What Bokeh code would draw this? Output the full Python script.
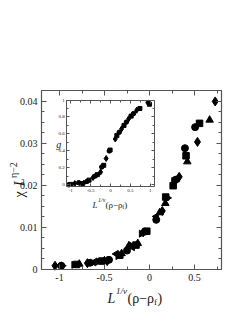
import math
from bokeh.plotting import figure
from bokeh.models import Range1d, LinearAxis, FixedTicker, CustomJSTickFormatter, Label
from bokeh.embed import file_html
from bokeh.resources import INLINE

# ---------------- main panel data ----------------
circle_x = [-0.98, -0.66, -0.45, -0.25, -0.05, 0.075, 0.29, 0.394, 0.507]
circle_y = [0.0009, 0.0016, 0.0023, 0.0045, 0.0090, 0.0118, 0.0213, 0.0288, 0.0338]
square_x = [-0.81, -0.53, -0.33, -0.15, -0.03, 0.18, 0.263, 0.406, 0.556]
square_y = [0.0012, 0.0020, 0.0034, 0.0058, 0.0091, 0.0172, 0.0199, 0.0270, 0.0347]
tri_x = [-0.78, -0.50, -0.31, -0.13, 0.113, 0.176, 0.42, 0.668]
tri_y = [0.0013, 0.0021, 0.0038, 0.0062, 0.0135, 0.0157, 0.0256, 0.0355]
diam_x = [-1.05, -0.69, -0.47, -0.23, -0.07, 0.142, 0.33, 0.533, 0.73]
diam_y = [0.0009, 0.0015, 0.0020, 0.0055, 0.0088, 0.0139, 0.0220, 0.0303, 0.0399]
left_x = [-1.00, -0.62, -0.37, -0.19, 0.075, 0.31]
left_y = [0.0009, 0.0017, 0.0037, 0.0053, 0.0126, 0.0217]
right_x = [-0.97, -0.84, -0.57, -0.35, -0.21, -0.09, 0.20, 0.27]
right_y = [0.0009, 0.0011, 0.0019, 0.0032, 0.0058, 0.0085, 0.0170, 0.0210]

main_xlim = (-1.2, 0.8)
main_ylim = (0.0, 0.0425)
main_xticks = [-1, -0.5, 0, 0.5]
main_xminor = [-1.0, -0.75, -0.5, -0.25, 0.0, 0.25, 0.5, 0.75]
main_yticks = [0, 0.01, 0.02, 0.03, 0.04]
main_yminor = [0.0025 * i for i in range(18)]

# ---------------- inset data ----------------
in_circ_x = [-1.05, -0.80, -0.59, -0.38, -0.22, -0.03, 0.22, 0.40, 0.58, 0.95]
in_circ_y = [0.00, 0.025, 0.04, 0.105, 0.21, 0.40, 0.62, 0.74, 0.84, 0.97]
in_sq_x = [-1.00, -0.73, -0.54, -0.33, -0.17, -0.01, 0.16, 0.34, 0.52, 0.74, 0.98]
in_sq_y = [0.005, 0.015, 0.055, 0.12, 0.23, 0.41, 0.58, 0.70, 0.81, 0.90, 0.95]
in_di_x = [-0.90, -0.67, -0.44, -0.25, -0.11, 0.12, 0.28, 0.46, 0.66]
in_di_y = [0.015, 0.02, 0.085, 0.15, 0.31, 0.54, 0.66, 0.78, 0.88]

in_xlim = (-1.1, 1.1)
in_ylim = (-0.02, 1.0)
in_xticks = [-1, -0.5, 0, 0.5, 1]
in_xminor = [-1.0, -0.75, -0.5, -0.25, 0.0, 0.25, 0.5, 0.75, 1.0]
in_yticks = [0, 0.2, 0.4, 0.6, 0.8, 1]
in_yminor = [0.1 * i for i in range(11)]

FONT = "Liberation Serif"
FRAME = "#555555"
INK = "#1a1a1a"

# ---------------- geometry (canvas pixels) ----------------
W, H = 233, 306
MAIN_L, MAIN_R, MAIN_T, MAIN_B = 41, 221, 90, 269
INS_L, INS_R, INS_T, INS_B = 66.3, 153.7, 99.5, 186.0


def span(lim, p_lo, p_hi, total):
    lo, hi = lim
    k = (hi - lo) / (p_hi - p_lo)
    return Range1d(lo - p_lo * k, hi + (total - p_hi) * k)


p = figure(width=W, height=H,
           x_range=span(main_xlim, MAIN_L, MAIN_R, W),
           y_range=span(main_ylim, H - MAIN_B, H - MAIN_T, H),
           x_axis_location=None, y_axis_location=None,
           output_backend="svg", toolbar_location=None, min_border=0)
p.extra_x_ranges = {"ix": span(in_xlim, INS_L, INS_R, W)}
p.extra_y_ranges = {"iy": span(in_ylim, H - INS_B, H - INS_T, H)}
p.grid.visible = False
p.outline_line_color = None
p.background_fill_color = "white"
p.border_fill_color = "white"


def add_axis(side, ticks, minors, loc, bounds, labels, size, tin, tmin, standoff,
             xr="default", yr="default", lw=1.2):
    ax = LinearAxis(fixed_location=loc, bounds=bounds, x_range_name=xr, y_range_name=yr)
    ax.ticker = FixedTicker(ticks=ticks, minor_ticks=minors)
    ax.axis_line_color = FRAME
    ax.axis_line_width = lw
    ax.major_tick_line_color = FRAME
    ax.minor_tick_line_color = FRAME
    ax.major_tick_in = tin
    ax.major_tick_out = 0
    ax.minor_tick_in = tmin
    ax.minor_tick_out = 0
    ax.major_label_text_font = FONT
    ax.major_label_text_color = INK
    if labels:
        ax.major_label_text_font_size = size
        ax.major_label_standoff = standoff
        ax.formatter = CustomJSTickFormatter(code="return String(tick)")
    else:
        ax.major_label_text_font_size = "0px"
        ax.major_label_standoff = 0
        ax.formatter = CustomJSTickFormatter(code="return ''")
    p.add_layout(ax, side)


# main frame axes
add_axis("below", main_xticks, main_xminor, main_ylim[0], main_xlim, True, "10px", 5, 3, 4)
add_axis("above", main_xticks, main_xminor, main_ylim[1], main_xlim, False, "10px", 5, 3, 0)
add_axis("left", main_yticks, main_yminor, main_xlim[0], main_ylim, True, "10px", 5, 3, 4)
add_axis("right", main_yticks, main_yminor, main_xlim[1], main_ylim, False, "10px", 5, 3, 0)

# inset frame axes
add_axis("below", in_xticks, in_xminor, in_ylim[0], in_xlim, True, "5px", 3, 2, 2, "ix", "iy", 1.0)
add_axis("above", in_xticks, in_xminor, in_ylim[1], in_xlim, False, "5px", 3, 2, 0, "ix", "iy", 1.0)
add_axis("left", in_yticks, in_yminor, in_xlim[0], in_ylim, True, "5px", 3, 2, 2, "ix", "iy", 1.0)
add_axis("right", in_yticks, in_yminor, in_xlim[1], in_ylim, False, "5px", 3, 2, 0, "ix", "iy", 1.0)

S = 7
p.scatter(circle_x, circle_y, marker="circle", size=S, color="black")
p.scatter(square_x, square_y, marker="square", size=S - 0.5, color="black")
p.scatter(tri_x, tri_y, marker="triangle", size=S + 0.5, color="black")
p.scatter(diam_x, diam_y, marker="diamond", size=S + 2, color="black")
p.scatter(left_x, left_y, marker="triangle", size=S, color="black", angle=math.pi / 2)
p.scatter(right_x, right_y, marker="triangle", size=S, color="black", angle=-math.pi / 2)

s = 4.5
p.scatter(in_circ_x, in_circ_y, marker="circle", size=s, color="black",
          x_range_name="ix", y_range_name="iy")
p.scatter(in_sq_x, in_sq_y, marker="square", size=s - 0.5, color="black",
          x_range_name="ix", y_range_name="iy")
p.scatter(in_di_x, in_di_y, marker="diamond", size=s + 1.5, color="black",
          x_range_name="ix", y_range_name="iy")


def lab(text, X, Y, size, italic=False, angle=0.0):
    # X, Y: page position of the text's baseline start
    p.add_layout(Label(x=X - 8, y=H + 8 - Y, x_units="screen", y_units="screen", text=text,
                       text_font=FONT, text_font_size=size, text_color=INK,
                       text_font_style="italic" if italic else "normal",
                       text_baseline="alphabetic", text_align="left", angle=angle))


# main x title: L^{1/nu} (rho - rho_f)
lab("L", 115, 306, "14px", italic=True)
lab("1/ν", 123.5, 298, "9px", italic=True)
lab("(ρ−ρ", 135, 306, "14px")
lab("f", 161.5, 309, "9px")
lab(")", 165, 306, "14px")

# main y title (rotated): chi L^{eta-2}
lab("χ", 27, 205, "14px", angle=math.pi / 2)
lab("L", 27, 193.5, "14px", italic=True, angle=math.pi / 2)
lab("η−2", 20.5, 185.5, "10px", angle=math.pi / 2)

# inset titles
lab("L", 100, 212, "9px", italic=True)
lab("1/ν", 105.5, 207, "6px", italic=True)
lab("(ρ−ρ", 113, 212, "9px")
lab("f", 129.8, 214, "6px")
lab(")", 131.8, 212, "9px")
lab("g", 63.8, 152, "10px", italic=True)

open("out.html", "w").write(file_html(p, INLINE))
